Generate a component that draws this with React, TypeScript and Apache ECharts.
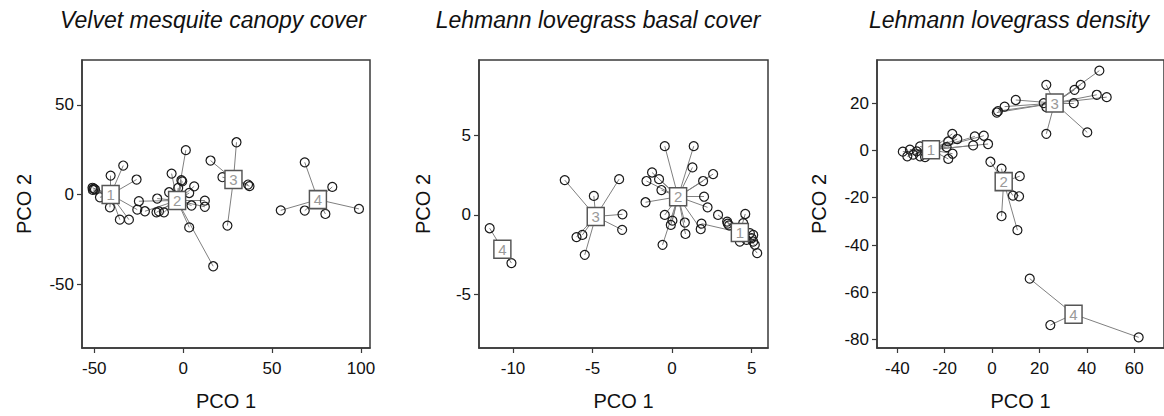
import React, { useEffect, useRef } from "react";
import * as echarts from "echarts";

const titles = ["Velvet mesquite canopy cover", "Lehmann lovegrass basal cover", "Lehmann lovegrass density"];
const xName = "PCO 1";
const yName = "PCO 2";

// Panel 1: Velvet mesquite canopy cover  [x, y, group]
const p1Ticks = { x: [-50, 0, 50, 100], y: [-50, 0, 50] };
const p1Centroids = [[-40.8, 0], [-3.4, -3.3], [28.3, 8.4], [75.8, -2.8]];
const p1Points = [
  [-51, 3.8, 1], [-50.3, 3.3, 1], [-49.6, 2.9, 1], [-50.8, 2.6, 1], [-46.8, -1.5, 1], [-40.8, 10.6, 1],
  [-33.7, 16.2, 1], [-26.2, 8.4, 1], [-41.2, -7.1, 1], [-35.6, -14, 1], [-30.5, -14, 1], [-25.8, -8.4, 1],
  [-24.9, -3.7, 2], [-21.5, -9.3, 2], [-15, -9.9, 2], [-13.6, -9.4, 2], [-10.8, -9.9, 2], [-14.6, -2.2, 2],
  [-6.5, 11.7, 2], [1.5, 24.8, 2], [-1, 8, 2], [-0.5, 7.4, 2], [-7.9, 1.3, 2], [-2.8, 3.7, 2], [3.4, 0.9, 2],
  [6.2, 4.6, 2], [12.2, -3.4, 2], [12.2, -6.8, 2], [4.7, -6.1, 2], [3.4, -18.3, 2], [16.9, -40, 2],
  [30, 29.2, 3], [15.4, 19, 3], [22.1, 9.7, 3], [36.5, 5.6, 3], [37.3, 4.7, 3], [24.9, -17.3, 3],
  [68.4, 18, 4], [83.9, 4.3, 4], [54.9, -8.8, 4], [68.4, -8.9, 4], [80, -10.8, 4], [98.9, -8, 4],
];

// Panel 2: Lehmann lovegrass basal cover
const p2Ticks = { x: [-10, -5, 0, 5], y: [-5, 0, 5] };
const p2Centroids = [[4.26, -1.11], [0.38, 1.15], [-4.8, -0.1], [-10.67, -2.16]];
const p2Points = [
  [2.89, 0, 1], [1.85, -0.55, 1], [3.46, -0.42, 1], [3.5, -0.55, 1], [3.58, -0.66, 1], [4.6, 0.06, 1],
  [4.47, -0.52, 1], [4.89, -1.15, 1], [5.0, -1.47, 1], [5.1, -1.68, 1], [5.2, -1.89, 1], [5.35, -2.41, 1],
  [4.26, -1.68, 1], [4.68, -1.57, 1], [5.1, -1.26, 1],
  [-0.46, 4.34, 2], [1.36, 4.34, 2], [1.28, 3.0, 2], [2.58, 2.58, 2], [1.95, 2.14, 2], [2.01, 1.15, 2],
  [2.23, 0.48, 2], [-1.26, 2.68, 2], [-0.82, 2.26, 2], [-1.61, 2.14, 2], [-0.67, 1.57, 2], [-1.67, 0.8, 2],
  [-0.46, 0, 2], [0.02, -0.36, 2], [-0.08, -0.63, 2], [-0.6, -1.89, 2], [0.8, -0.48, 2], [0.84, -1.2, 2],
  [1.8, -0.9, 2],
  [-6.75, 2.2, 3], [-3.33, 2.26, 3], [-4.92, 1.2, 3], [-3.12, 0.04, 3], [-3.14, -0.94, 3], [-6.01, -1.4, 3],
  [-5.64, -1.26, 3], [-5.49, -2.52, 3],
  [-11.47, -0.84, 4], [-10.1, -3.04, 4],
];

// Panel 3: Lehmann lovegrass density
const p3Ticks = { x: [-40, -20, 0, 20, 40, 60], y: [-80, -60, -40, -20, 0, 20] };
const p3Centroids = [[-25.8, 0.3], [4.9, -13.2], [26.4, 20], [34.4, -69.2]];
const p3Points = [
  [-37.7, -0.55, 1], [-35.8, -2.5, 1], [-34.7, 0.3, 1], [-33.3, -1.8, 1], [-31.8, -0.4, 1], [-30.4, -2.5, 1],
  [-30.4, 1.7, 1], [-28.3, -2.8, 1], [-18.5, -3.6, 1], [-16.8, 7.0, 1], [-14.7, 4.8, 1], [-18.5, 3.8, 1],
  [-16.7, -1.4, 1], [-19.2, 1.4, 1], [-7.3, 5.9, 1], [-8.0, 2.1, 1], [-3.5, 6.2, 1], [-1.7, 2.7, 1],
  [-0.7, -4.8, 2], [4.0, -7.7, 2], [11.7, -10.9, 2], [8.8, -19.1, 2], [11.4, -19.4, 2], [4.0, -27.8, 2],
  [10.7, -33.7, 2],
  [22.9, 27.7, 3], [45.3, 33.7, 3], [37.4, 27.7, 3], [34.8, 25.6, 3], [44.2, 23.5, 3], [48.4, 22.5, 3],
  [34.5, 20, 3], [40.2, 7.6, 3], [22.9, 7.0, 3], [21.8, 20, 3], [22.9, 18.3, 3], [10, 21.3, 3],
  [5.3, 18.5, 3], [2.0, 16.0, 3], [2.5, 16.6, 3],
  [15.9, -54.2, 4], [24.6, -73.8, 4], [61.9, -79, 4],
];

const FONT = "'Liberation Sans', Arial, Helvetica, sans-serif";
const AXIS_COLOR = "#3a3a3a";

const panels = [
  { ticks: p1Ticks, cents: p1Centroids, pts: p1Points, xr: [-56.9, 105.1], yr: [-85.6, 75.1],
    grid: { left: 82, top: 60, width: 288, height: 288 }, titleX: 213, yGap: 48 },
  { ticks: p2Ticks, cents: p2Centroids, pts: p2Points, xr: [-12.14, 6.03], yr: [-8.4, 9.78],
    grid: { left: 479, top: 60, width: 289, height: 289 }, titleX: 598, yGap: 46 },
  { ticks: p3Ticks, cents: p3Centroids, pts: p3Points, xr: [-48.6, 72.6], yr: [-83.5, 38.2],
    grid: { left: 877, top: 60, width: 288, height: 289 }, titleX: 1009, yGap: 48 },
];

export default function App() {
  const ref = useRef<HTMLDivElement>(null);
  useEffect(() => {
    if (!ref.current) return;
    const chart = echarts.init(ref.current, undefined, { renderer: "svg" });
    const grids: any[] = [];
    const xAxes: any[] = [];
    const yAxes: any[] = [];
    const series: any[] = [];
    const graphics: any[] = [];
    panels.forEach((p, i) => {
      grids.push({ ...p.grid, show: true, borderColor: AXIS_COLOR, borderWidth: 1.5, backgroundColor: "transparent" });
      const common = {
        gridIndex: i,
        type: "value",
        splitLine: { show: false },
        nameLocation: "middle",
        nameTextStyle: { fontSize: 20, color: "#111", fontFamily: FONT },
        axisLine: { show: true, onZero: false, lineStyle: { color: AXIS_COLOR, width: 1.5 } },
      };
      xAxes.push({
        ...common,
        min: p.xr[0], max: p.xr[1],
        name: xName, nameGap: 43,
        axisTick: { show: true, length: 5, customValues: p.ticks.x, lineStyle: { color: AXIS_COLOR, width: 1.2 } },
        axisLabel: { customValues: p.ticks.x, fontSize: 17, color: "#111", fontFamily: FONT, margin: 12 },
      });
      yAxes.push({
        ...common,
        min: p.yr[0], max: p.yr[1],
        name: yName, nameGap: p.yGap,
        axisTick: { show: true, length: 5, customValues: p.ticks.y, lineStyle: { color: AXIS_COLOR, width: 1.2 } },
        axisLabel: { customValues: p.ticks.y, fontSize: 17, color: "#111", fontFamily: FONT, margin: 8 },
      });
      series.push({
        type: "lines",
        coordinateSystem: "cartesian2d",
        xAxisIndex: i, yAxisIndex: i,
        silent: true,
        z: 1,
        lineStyle: { color: "#808080", width: 1, opacity: 1 },
        data: p.pts.map((pt) => ({ coords: [p.cents[pt[2] - 1], [pt[0], pt[1]]] })),
      });
      series.push({
        type: "scatter",
        xAxisIndex: i, yAxisIndex: i,
        z: 2,
        symbol: "circle",
        symbolSize: 9,
        itemStyle: { color: "rgba(255,255,255,0)", borderColor: "#1a1a1a", borderWidth: 1.2, opacity: 1 },
        data: p.pts.map((pt) => [pt[0], pt[1]]),
      });
      series.push({
        type: "scatter",
        xAxisIndex: i, yAxisIndex: i,
        z: 3,
        symbol: "rect",
        symbolSize: [17, 18],
        itemStyle: { color: "#fff", borderColor: "#555", borderWidth: 1.5, opacity: 1 },
        label: { show: true, position: "inside", formatter: (d: any) => String(d.dataIndex + 1), color: "#999", fontSize: 15, fontFamily: FONT },
        data: p.cents.map((c) => [c[0], c[1]]),
      });
      graphics.push({
        type: "text",
        x: p.titleX, y: 20,
        style: { text: titles[i], fontSize: 23, fontStyle: "italic", fontFamily: FONT, fill: "#111", textAlign: "center", textVerticalAlign: "middle" },
      });
    });
    chart.setOption({
      animation: false,
      backgroundColor: "#fff",
      grid: grids,
      xAxis: xAxes,
      yAxis: yAxes,
      series,
      graphic: graphics,
    });
    return () => chart.dispose();
  }, []);
  return <div ref={ref} style={{ position: "fixed", left: 0, top: 0, width: 1164, height: 416 }} />;
}
